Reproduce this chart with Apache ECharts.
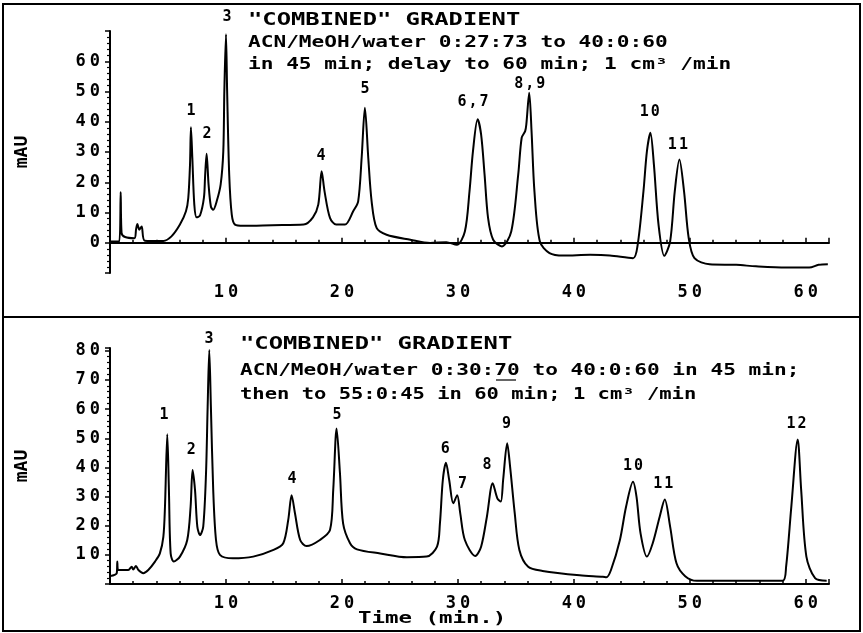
<!DOCTYPE html>
<html>
<head>
    <meta charset="utf-8">
    <title>Combined gradient chromatograms</title>
    <script src="https://cdn.jsdelivr.net/npm/echarts@6/dist/echarts.min.js"></script>
</head>
<body style="margin:0;background:#fff;">
    <div id="main" style="width:863px;height:633px;"></div>
    <script type="text/javascript">
        // trace: [time (min), mAU]
        var topTrace = [
            [0, 0.4], [0.8, 0.4], [0.92, 16.8], [1.0, 3.2], [1.3, 1.9], [2.1, 1.5], [2.25, 4.5], [2.36, 6.2],
            [2.53, 4.3], [2.73, 5.4], [3.0, 0.7], [4.6, 0.6], [5.3, 2.1], [6.03, 6.0], [6.55, 10.4], [6.75, 14.8],
            [6.9, 25.9], [6.98, 38.2], [7.1, 28], [7.27, 12.6], [7.47, 8.4], [7.76, 9.0], [8.1, 14.9], [8.2, 22],
            [8.33, 29.4], [8.5, 19.2], [8.7, 12.0], [8.9, 10.9], [9.2, 13.7], [9.54, 19.2], [9.77, 30.3], [9.86, 50.2],
            [10.0, 68.9], [10.1, 50.2], [10.28, 22.5], [10.5, 9.3], [10.78, 6.0], [11.5, 5.6], [14, 5.8], [16.7, 6.0],
            [17.5, 8.4], [17.96, 12.6], [18.25, 23.6], [18.5, 17.0], [18.97, 8.2], [19.5, 6.0], [20.26, 6.0], [20.97, 10.4],
            [21.4, 13.7], [21.7, 28.1], [21.98, 44.6], [22.27, 28.1], [22.56, 13.7], [22.99, 4.9], [23.85, 2.65], [25.9, 1.0],
            [27.6, -0.1], [29.0, 0.2], [29.9, -0.7], [30.6, 3.7], [31.0, 17], [31.3, 30.3], [31.7, 40.8], [32.0, 35.8],
            [32.3, 22.5], [32.6, 8.2], [33.04, 1.0], [33.8, -1.2], [34.6, 3.7], [35.2, 22.5], [35.5, 34.7], [35.8, 36.9],
            [35.9, 39.1], [36.15, 49.6], [36.35, 36.9], [36.6, 17.0], [37.07, 0.4], [37.9, -3.4], [39.1, -4.2], [41.4, -4.0],
            [43.1, -4.2], [45.1, -5.1], [45.5, -0.7], [46.0, 17.0], [46.3, 30.3], [46.6, 36.4], [46.9, 25.9], [47.3, 6.0],
            [47.8, -4.3], [48.3, 0.4], [48.7, 17], [49.1, 27.5], [49.5, 17], [49.9, 1.6], [50.4, -5.1], [51.7, -7.1],
            [54.0, -7.3], [55.7, -7.8], [58.3, -8.2], [60.3, -8.2], [61.1, -7.3], [61.9, -7.1]
        ];
        // trace
        var bottomTrace = [
            [0, 2.7], [0.58, 3.7], [0.63, 7.7], [0.7, 4.8], [1.58, 4.8], [1.87, 5.9], [2.0, 5.0], [2.24, 6.2],
            [2.45, 4.8], [2.87, 3.7], [3.3, 4.8], [3.88, 7.7], [4.3, 10.5], [4.6, 16.2], [4.74, 26.5], [4.94, 51.4],
            [5.08, 32.3], [5.23, 10.5], [5.5, 7.7], [6.03, 9.4], [6.66, 15.1], [6.95, 26.5], [7.12, 39.1], [7.33, 32.3],
            [7.53, 19.7], [7.76, 16.8], [8.04, 19.7], [8.28, 38.0], [8.42, 60.8], [8.56, 80.3], [8.7, 60.8], [8.9, 32.3],
            [9.14, 15.1], [9.48, 10.0], [10.6, 8.8], [12.35, 9.4], [14.1, 11.7], [14.94, 14.0], [15.37, 22.0], [15.66, 30.5],
            [15.95, 24.3], [16.4, 15.1], [16.95, 13.0], [18.1, 15.1], [18.97, 18.5], [19.25, 32.3], [19.54, 53.4], [19.83, 38.0],
            [20.1, 20.8], [20.7, 14.0], [21.3, 11.9], [23.3, 10.5], [25.6, 9.2], [27.3, 9.4], [28.2, 12.8], [28.45, 20.8],
            [28.7, 35.7], [28.97, 41.6], [29.25, 35.7], [29.6, 27.7], [29.94, 30.5], [30.2, 24.3], [30.6, 15.1], [31.5, 9.6],
            [32.0, 12.8], [32.5, 23.1], [33.0, 34.6], [33.4, 29.4], [33.7, 28.3], [33.9, 35.7], [34.25, 48.3], [34.5, 40.3],
            [34.9, 24.3], [35.3, 11.7], [36.06, 5.9], [37.3, 4.5], [40.5, 3.0], [42.5, 2.5], [42.8, 2.3], [43.2, 4.8],
            [43.97, 15.1], [44.5, 26.5], [45.1, 35.1], [45.4, 30.0], [45.75, 17.4], [46.3, 9.4], [46.8, 14.0], [47.4, 23.1],
            [47.84, 29.0], [48.3, 19.7], [48.85, 7.1], [49.6, 2.7], [50.6, 1.1], [54.0, 1.1], [58.0, 1.1], [58.3, 5.9],
            [58.75, 26.5], [59.3, 49.6], [59.6, 32.3], [60.05, 9.4], [60.8, 2.0], [61.8, 1.1]
        ];
        // peak numbers: [time, mAU, label]
        var topPeaks = [
            [6.98, 43.4, '1'], [8.36, 35.8, '2'], [10.09, 74.6, '3'], [18.2, 28.5, '4'], [21.98, 50.7, '5'],
            [31.3, 46.4, '6,7'], [36.2, 52.4, '8,9'], [46.55, 43.1, '10'], [48.97, 32.2, '11']
        ];
        var bottomPeaks = [
            [4.66, 58.0, '1'], [7.0, 46.0, '2'], [8.53, 84.1, '3'], [15.7, 36.0, '4'], [19.57, 58.0, '5'],
            [28.9, 46.3, '6'], [30.4, 34.3, '7'], [32.5, 40.8, '8'], [34.2, 55.0, '9'], [45.1, 40.5, '10'],
            [47.7, 34.3, '11'], [59.2, 54.9, '12']
        ];
        var topNote = [
            '"COMBINED" GRADIENT',
            'ACN/MeOH/water 0:27:73 to 40:0:60',
            'in 45 min; delay to 60 min; 1 cm³ /min'
        ];
        var bottomNote = [
            '"COMBINED" GRADIENT',
            'ACN/MeOH/water 0:30:70 to 40:0:60 in 45 min;',
            'then to 55:0:45 in 60 min; 1 cm³ /min'
        ];

        var FONT = '"DejaVu Sans Mono", monospace';
        var rich = { d: { fontFamily: FONT, fontWeight: 'bold', fontSize: 17, color: '#000', padding: [0, 2, 0, 2] } };
        function spaced(v) {
            return String(v).split('').map(function (c) { return '{d|' + c + '}'; }).join('');
        }

        function xAxisFor(i) {
            return {
                gridIndex: i, type: 'value', min: 0, max: 62, interval: 10,
                axisLine: { show: true, lineStyle: { color: '#000', width: 2 } },
                axisTick: { show: true, inside: true, length: 5, lineStyle: { color: '#000', width: 1.5 } },
                minorTick: { show: true, splitNumber: 5, length: 3, lineStyle: { color: '#000', width: 1.5 } },
                splitLine: { show: false },
                axisLabel: {
                    margin: 11,
                    formatter: function (v) { return (v > 0 && v % 10 === 0) ? spaced(v) : ''; },
                    rich: rich
                }
            };
        }
        function yAxisFor(i, min, max, lo, hi) {
            return {
                gridIndex: i, type: 'value', min: min, max: max, interval: 10,
                axisLine: { show: true, lineStyle: { color: '#000', width: 2 } },
                axisTick: { show: true, length: 5, lineStyle: { color: '#000', width: 1.5 } },
                minorTick: { show: true, splitNumber: 5, length: 3, lineStyle: { color: '#000', width: 1.2 } },
                splitLine: { show: false },
                axisLabel: {
                    margin: 8,
                    formatter: function (v) { return (v >= lo && v <= hi && v % 10 === 0) ? spaced(v) : ''; },
                    rich: rich
                },
                name: 'mAU', nameLocation: 'middle', nameGap: 79,
                nameTextStyle: { fontFamily: FONT, fontWeight: 'bold', fontSize: 18, color: '#000' }
            };
        }
        function peakSeries(i, peaks) {
            return {
                type: 'scatter', xAxisIndex: i, yAxisIndex: i, data: peaks,
                symbolSize: 1, itemStyle: { color: 'transparent', opacity: 1 }, clip: false, silent: true,
                label: {
                    show: true, position: 'inside', color: '#000', opacity: 1,
                    formatter: function (p) { return spaced(p.data[2]); },
                    rich: { d: { fontFamily: FONT, fontWeight: 'bold', fontSize: 15, color: '#000', padding: [0, 1, 0, 1] } }
                }
            };
        }
        function noteText(x, y, txt, size, sx) {
            return {
                type: 'text', x: x, y: y, scaleX: sx,
                style: { text: txt, font: 'bold ' + size + 'px ' + FONT, fill: '#000', verticalAlign: 'middle' }
            };
        }

        var myChart = echarts.init(document.getElementById('main'));
        var option = {
            backgroundColor: '#fff',
            animation: false,
            grid: [
                { left: 110, top: 31, width: 719, height: 242 },
                { left: 110, top: 348, width: 719, height: 236 }
            ],
            xAxis: [xAxisFor(0), xAxisFor(1)],
            yAxis: [yAxisFor(0, -10, 70, 0, 60), yAxisFor(1, 0, 81, 10, 80)],
            graphic: [
                { type: 'rect', shape: { x: 3, y: 4, width: 857, height: 627 }, style: { fill: 'none', stroke: '#000', lineWidth: 2 } },
                { type: 'line', shape: { x1: 3, y1: 317, x2: 860, y2: 317 }, style: { stroke: '#000', lineWidth: 2 } },
                noteText(248, 21, topNote[0], 17, 1.4),
                noteText(248, 43, topNote[1], 16, 1.32),
                noteText(248, 65, topNote[2], 16, 1.32),
                noteText(240, 345, bottomNote[0], 17, 1.4),
                noteText(240, 371, bottomNote[1], 16, 1.32),
                noteText(240, 395, bottomNote[2], 16, 1.28),
                { type: 'line', shape: { x1: 496, y1: 380, x2: 516, y2: 380 }, style: { stroke: '#000', lineWidth: 1.2 } },
                noteText(358, 619, 'Time (min.)', 16, 1.4)
            ],
            series: [
                {
                    type: 'line', xAxisIndex: 0, yAxisIndex: 0, data: topTrace, showSymbol: false,
                    smooth: 0.3, lineStyle: { color: '#000', width: 2 }
                },
                {
                    type: 'line', xAxisIndex: 1, yAxisIndex: 1, data: bottomTrace, showSymbol: false,
                    smooth: 0.3, lineStyle: { color: '#000', width: 2 }
                },
                peakSeries(0, topPeaks),
                peakSeries(1, bottomPeaks)
            ]
        };
        myChart.setOption(option);
    </script>
</body>
</html>
